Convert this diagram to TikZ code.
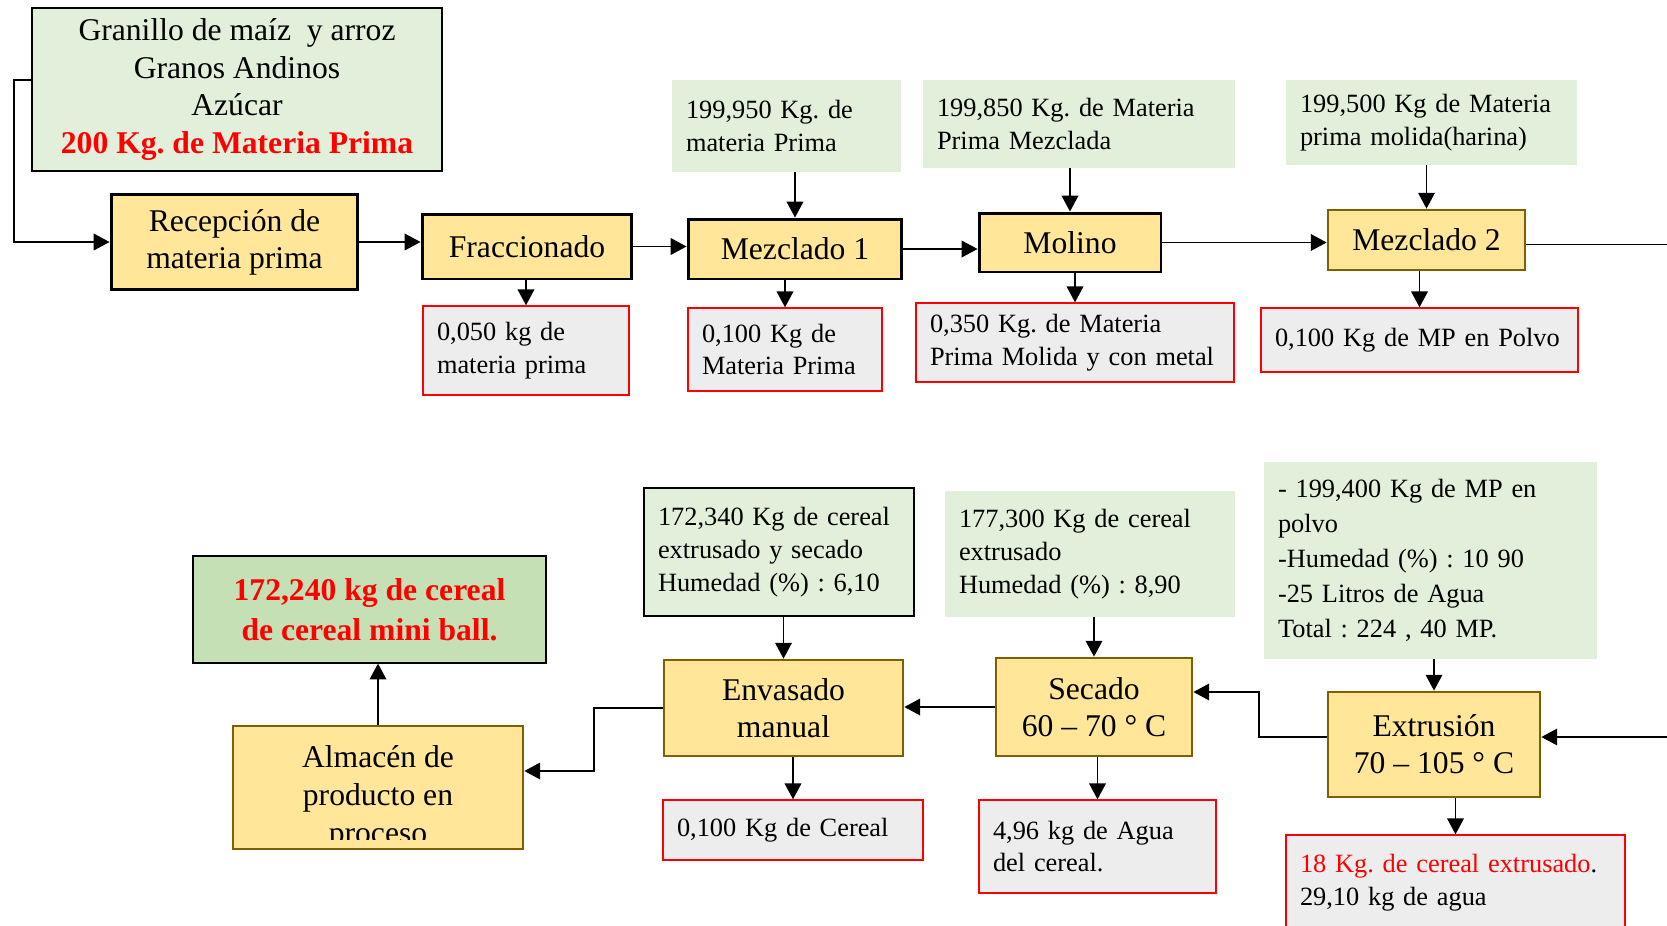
\documentclass[tikz,border=0pt]{standalone}
\usepackage{fontspec}
\setmainfont{Liberation Serif}
\usetikzlibrary{arrows.meta}
\frenchspacing
\definecolor{verdeclaro}{HTML}{E2EFDA}
\definecolor{verdefin}{HTML}{C5E0B4}
\definecolor{amarillo}{HTML}{FFE699}
\definecolor{marron}{HTML}{7F6000}
\definecolor{grisres}{HTML}{EDEDED}
\definecolor{rojo}{HTML}{FF0000}
\tikzstyle{procb}=[draw=black,line width=1.7pt,fill=amarillo,align=center,inner sep=0pt,font=\fontsize{18}{21}\selectfont]
\tikzstyle{procm}=[procb,draw=marron,line width=1.6pt]
\tikzstyle{datov}=[fill=verdeclaro,align=left,inner xsep=0.28cm,inner ysep=0pt,font=\fontsize{15}{18.7}\selectfont]
\tikzstyle{datob}=[datov,draw=black,line width=0.7pt]
\tikzstyle{resid}=[datov,fill=grisres,draw=rojo,line width=0.85pt]
\tikzstyle{flecha}=[line width=0.75pt,-{Triangle[length=9pt,width=9.5pt]}]

\begin{document}
\begin{tikzpicture}[x=0.02cm,y=-0.02cm]
    \useasboundingbox (0,0) rectangle (1667,926);
    \clip (0,0) rectangle (1667,926);
    % entrada
    \node[datob,align=center,minimum width=8.2cm,minimum height=3.26cm,font=\fontsize{18}{21.3}\selectfont] (rawin) at (237,89.5)
        {Granillo de maíz\ \ y arroz\\Granos Andinos\\Azúcar\\\textcolor{rojo}{\textbf{200 Kg. de Materia Prima}}};
    % fila superior
    \node[procb,minimum width=4.94cm,minimum height=1.92cm] (rec) at (234.5,242) {Recepción de\\materia prima};
    \node[procb,minimum width=4.2cm,minimum height=1.3cm] (frac) at (527,246.5) {Fraccionado};
    \node[procb,minimum width=4.28cm,minimum height=1.2cm] (mez1) at (795,249) {Mezclado 1};
    \node[procb,minimum width=3.64cm,minimum height=1.18cm] (mol) at (1070,242.5) {Molino};
    \node[procm,minimum width=3.94cm,minimum height=1.2cm] (mez2) at (1426.5,240) {Mezclado 2};
    \node[datov,text width=4.02cm,minimum height=1.84cm] (ent1) at (786.5,126) {199,950 Kg. de\\materia Prima};
    \node[datov,text width=5.68cm,minimum height=1.76cm] (ent2) at (1079,124) {199,850 Kg. de Materia\\Prima Mezclada};
    \node[datov,text width=5.26cm,minimum height=1.7cm] (ent3) at (1431.5,122.5) {199,500 Kg de Materia\\prima molida(harina)};
    \node[resid,text width=3.56cm,minimum height=1.78cm] (res1) at (526,350.5) {0,050 kg de\\materia prima};
    \node[resid,text width=3.32cm,minimum height=1.66cm] (res2) at (785,349.5) {0,100 Kg de\\Materia Prima};
    \node[resid,text width=5.8cm,minimum height=1.58cm] (res3) at (1075,342.5) {0,350 Kg. de Materia\\Prima Molida y con metal};
    \node[resid,text width=5.78cm,minimum height=1.28cm] (res4) at (1419.5,340) {0,100 Kg de MP en Polvo};
    % fila inferior
    \node[datob,fill=verdefin,align=center,text=rojo,minimum width=7.06cm,minimum height=2.14cm,font=\fontsize{18}{22.7}\selectfont\bfseries] (fin) at (369.5,609.5)
        {172,240 kg de cereal\\de cereal mini ball.};
    \node[procm,minimum width=5.8cm,minimum height=2.46cm] (alm) at (378,787.5) {};
    \begin{scope}
        \clip (235,728) rectangle (521,839);
        \node[align=center,font=\fontsize{18}{21.5}\selectfont] (almtxt) at (378,798) {Almacén de\\producto en\\proceso};
    \end{scope}
    \node[procm,minimum width=4.78cm,minimum height=1.92cm] (env) at (783.5,708) {Envasado\\manual};
    \node[procm,minimum width=3.92cm,minimum height=1.96cm] (sec) at (1094,707) {Secado\\60 – 70 ° C};
    \node[procm,minimum width=4.24cm,minimum height=2.1cm] (ext) at (1434,744.5) {Extrusión\\70 – 105 ° C};
    \node[datob,text width=4.84cm,minimum height=2.56cm] (ent4) at (779,552) {172,340 Kg de cereal\\extrusado y secado\\Humedad (\%) : 6,10};
    \node[datov,text width=5.24cm,minimum height=2.52cm] (ent5) at (1090,554) {177,300 Kg de cereal\\extrusado\\Humedad (\%) : 8,90};
    \node[datov,text width=6.1cm,minimum height=3.94cm,font=\fontsize{15}{20}\selectfont] (ent6) at (1430.5,560.5)
        {- 199,400 Kg de MP en\\polvo\\-Humedad (\%) : 10 90\\-25 Litros de Agua\\Total : 224 , 40 MP.};
    \node[resid,text width=4.64cm,minimum height=1.2cm] (res5) at (793,830) {0,100 Kg de Cereal};
    \node[resid,text width=4.18cm,minimum height=1.86cm] (res6) at (1097.5,846.5) {4,96 kg de Agua\\del cereal.};
    \node[resid,text width=6.22cm,minimum height=1.92cm] (res7) at (1455.5,883) {\textcolor{rojo}{18 Kg. de cereal extrusado}.\\29,10 kg de agua};

    \coordinate (k0) at (14,80);
    \coordinate (k1) at (1259,692);
    \coordinate (k2) at (594,771);
    \coordinate (inR) at (1667,737);
    \coordinate (outR) at (1667,244);

    \foreach \from/\to in {rec/frac,frac/mez1,mez1/mol,mol/mez2}
    \draw[flecha] (\from.east) -- (\from.east -| \to.west);
    \foreach \from/\to in {ent1/mez1,ent2/mol,ent3/mez2,frac/res1,mez1/res2,mol/res3,mez2/res4,ent4/env,ent5/sec,ent6/ext,env/res5,sec/res6,ext/res7}
    \draw[flecha] (\from.south -| \to) -- (\to.north);

    \draw[flecha] (k0 -| rawin.west) -- (k0) |- (rec.west);
    \draw (mez2.east |- outR) -- (outR);
    \draw[flecha] (inR) -- (inR -| ext.east);
    \draw[flecha] (ext.west |- inR) -| (k1) -- (k1 -| sec.east);
    \draw[flecha] (sec.west) -- (sec.west -| env.east);
    \draw[flecha] (env.west) -| (k2) -- (k2 -| alm.east);
    \draw[flecha] (alm.north) -- (alm.north |- fin.south);
\end{tikzpicture}
\end{document}
